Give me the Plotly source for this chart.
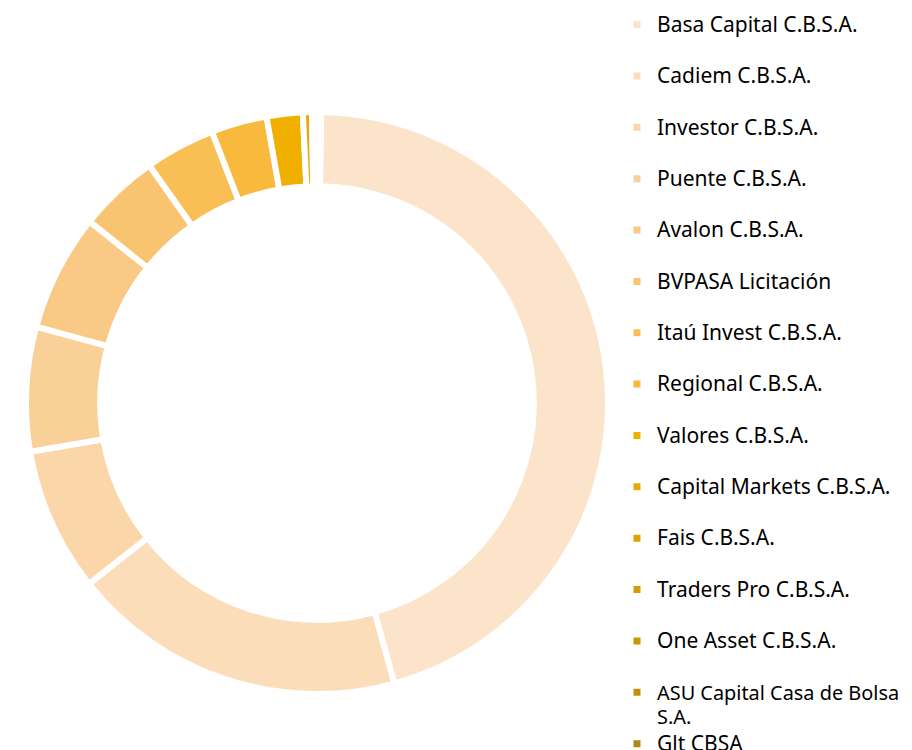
import plotly.graph_objects as go

categories = [
    "Basa Capital C.B.S.A.", "Cadiem C.B.S.A.", "Investor C.B.S.A.", "Puente C.B.S.A.",
    "Avalon C.B.S.A.", "BVPASA Licitación", "Itaú Invest C.B.S.A.", "Regional C.B.S.A.",
    "Valores C.B.S.A.", "Capital Markets C.B.S.A.", "Fais C.B.S.A.", "Traders Pro C.B.S.A.",
    "One Asset C.B.S.A.", "ASU Capital Casa de Bolsa S.A.", "Glt CBSA",
]
shares = [45.5, 18.6, 8.0, 6.9, 6.5, 4.5, 3.9, 3.1, 2.0, 0.5, 0.12, 0.1, 0.1, 0.1, 0.08]
colors = [
    "#FCE4CA", "#FBDDBA", "#FAD6A8", "#F9D097", "#F9C985", "#F9C46F", "#F9BF55",
    "#F9B93C", "#F1B000", "#E8AA00", "#DDA400", "#D29D08", "#C99605", "#BE9010", "#B0871A",
]

def legend_label(name):
    size = 21
    if name == "ASU Capital Casa de Bolsa S.A.":
        text = "ASU Capital Casa de Bolsa<br>S.A."
        size = 19.9
    else:
        text = name + "<br> "
    open_tag = '<span style="font-size:%spx">' % size
    return open_tag + text.replace("<br>", "</span><br>" + open_tag) + "</span>"

labels = [legend_label(c) for c in categories]

W, H = 912, 750
cx, cy, R = 309, 395, 291

fig = go.Figure(go.Pie(
    labels=labels,
    values=shares,
    sort=False,
    direction="clockwise",
    rotation=0.8,
    hole=0.745,
    textinfo="none",
    marker=dict(colors=colors, line=dict(color="white", width=6)),
    domain=dict(x=[(cx - R) / W, (cx + R) / W], y=[(H - cy - R) / H, (H - cy + R) / H]),
))

fig.update_layout(
    width=W, height=H,
    margin=dict(l=0, r=0, t=0, b=0, autoexpand=False),
    paper_bgcolor="white",
    plot_bgcolor="white",
    showlegend=True,
    legend=dict(
        x=609 / W, y=1.0 + 2 / H, xanchor="left", yanchor="top",
        font=dict(family="Noto Sans", size=18.6, color="#000000"),
        valign="top",
        bgcolor="rgba(0,0,0,0)",
        traceorder="normal",
        maxheight=2000,
    ),
)

fig.write_html("out.html")
